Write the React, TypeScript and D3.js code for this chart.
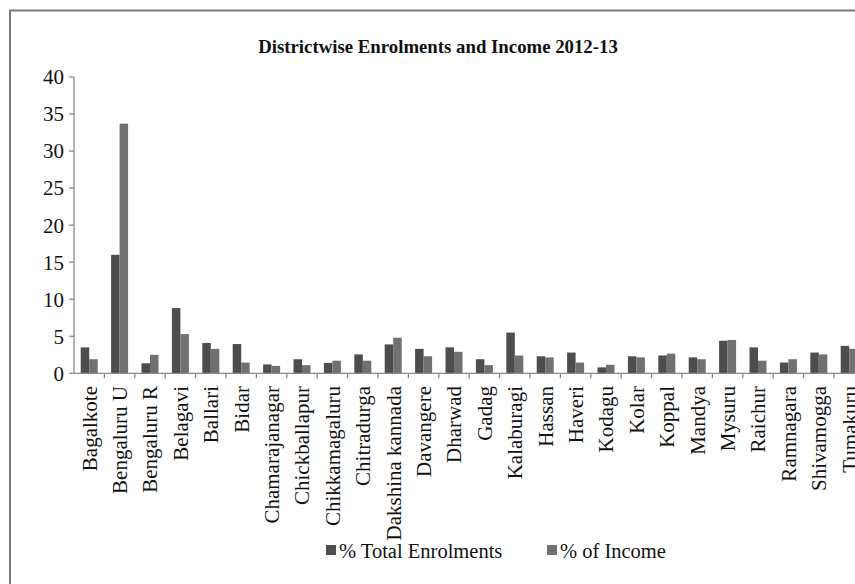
import React from "react";
import * as d3 from "d3";

const districts = [
  "Bagalkote", "Bengaluru U", "Bengaluru R", "Belagavi", "Ballari", "Bidar",
  "Chamarajanagar", "Chickballapur", "Chikkamagaluru", "Chitradurga",
  "Dakshina kannada", "Davangere", "Dharwad", "Gadag", "Kalaburagi", "Hassan",
  "Haveri", "Kodagu", "Kolar", "Koppal", "Mandya", "Mysuru", "Raichur",
  "Ramnagara", "Shivamogga", "Tumakuru",
];
const enrolments = [
  3.5, 16.0, 1.35, 8.8, 4.1, 3.95, 1.2, 1.9, 1.4, 2.55, 3.9, 3.3, 3.5, 1.9,
  5.5, 2.3, 2.8, 0.8, 2.3, 2.4, 2.15, 4.4, 3.5, 1.45, 2.8, 3.7,
];
const income = [
  1.9, 33.7, 2.5, 5.3, 3.3, 1.45, 1.0, 1.1, 1.7, 1.7, 4.8, 2.3, 2.9, 1.1,
  2.4, 2.15, 1.45, 1.15, 2.15, 2.65, 1.9, 4.5, 1.7, 1.9, 2.55, 3.3,
];
const seriesNames = ["% Total Enrolments", "% of Income"];
const seriesColors = ["#4d4d4d", "#717171"];
const yTicks = [0, 5, 10, 15, 20, 25, 30, 35, 40];
const title = "Districtwise Enrolments and Income 2012-13";

export default function App() {
  const W = 855;
  const H = 584;
  const x0 = 74;
  const step = 30.4;
  const baseY = 373.3;
  const topY = 77;
  const x = d3.scaleBand<string>().domain(districts).range([x0, x0 + step * districts.length]).padding(0);
  const inner = d3.scaleBand<string>().domain(seriesNames).range([6.7, step - 6.7]).padding(0);
  const y = d3.scaleLinear().domain([0, 40]).range([baseY, topY]);
  const values = [enrolments, income];
  const font = "'Liberation Serif', 'Times New Roman', serif";
  const axisColor = "#8a8a8a";

  return (
    <svg width={W} height={H} style={{ position: "absolute", left: 0, top: 0, background: "#fff" }}>
      <rect x={0} y={0} width={W} height={H} fill="#fff" />
      <rect x={10} y={10.5} width={W + 40} height={H + 40} fill="none" stroke="#7a7a7a" strokeWidth={2} />
      <text x={438} y={53} textAnchor="middle" fontFamily={font} fontWeight="bold" fontSize={18.8} fill="#111">
        {title}
      </text>
      {/* y axis */}
      <line x1={x0} x2={x0} y1={topY} y2={baseY} stroke={axisColor} strokeWidth={1.3} />
      {yTicks.map((t) => (
        <g key={t}>
          <line x1={x0 - 5} x2={x0} y1={y(t)} y2={y(t)} stroke={axisColor} strokeWidth={1.3} />
          <text x={64} y={y(t)} dy="0.35em" textAnchor="end" fontFamily={font} fontSize={21} fill="#111">
            {t}
          </text>
        </g>
      ))}
      {/* bars */}
      {districts.map((d, i) => (
        <g key={d}>
          {values.map((vals, s) => (
            <rect
              key={s}
              x={(x(d) as number) + (inner(seriesNames[s]) as number)}
              y={y(vals[i])}
              width={inner.bandwidth()}
              height={baseY - y(vals[i])}
              fill={seriesColors[s]}
            />
          ))}
        </g>
      ))}
      {/* x axis */}
      <line x1={x0} x2={W + 20} y1={baseY} y2={baseY} stroke={axisColor} strokeWidth={1.3} />
      {districts.map((d, i) => (
        <line
          key={"t" + d}
          x1={x0 + step * (i + 1)}
          x2={x0 + step * (i + 1)}
          y1={baseY}
          y2={baseY + 5}
          stroke={axisColor}
          strokeWidth={1.3}
        />
      ))}
      {districts.map((d) => {
        const cx = (x(d) as number) + x.bandwidth() / 2;
        return (
          <text
            key={"l" + d}
            transform={`translate(${cx},${386}) rotate(-90)`}
            dy="0.35em"
            textAnchor="end"
            fontFamily={font}
            fontSize={21}
            fill="#111"
          >
            {d}
          </text>
        );
      })}
      {/* legend */}
      <rect x={326} y={545} width={10} height={10} fill={seriesColors[0]} />
      <text x={339} y={558} fontFamily={font} fontSize={20.5} fill="#111">{seriesNames[0]}</text>
      <rect x={547} y={545} width={10} height={10} fill={seriesColors[1]} />
      <text x={560} y={558} fontFamily={font} fontSize={20.5} fill="#111">{seriesNames[1]}</text>
    </svg>
  );
}
